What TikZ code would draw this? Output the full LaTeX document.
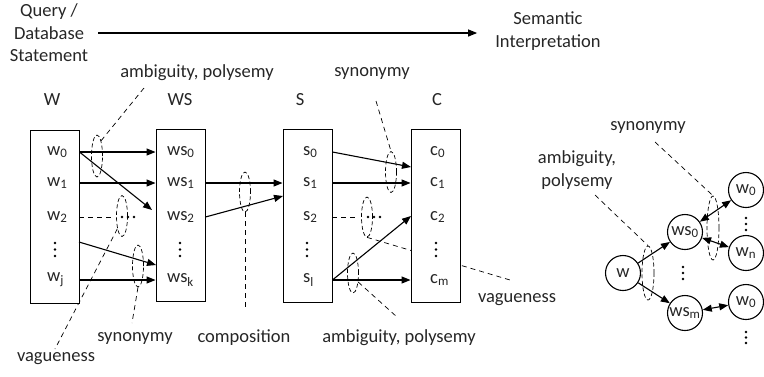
\documentclass[tikz,border=0pt]{standalone}
\usepackage{fontspec}
\setmainfont{Carlito}
\usetikzlibrary{arrows.meta,shapes.geometric}
\newcommand{\sub}[1]{\textsubscript{#1}}
\begin{document}
\begin{tikzpicture}[x=1pt,y=-1pt,
  font=\fontsize{18.5}{22.5}\selectfont,
  lbl/.style={inner sep=0pt, text=black!85},
  box/.style={draw, fill=white, minimum width=49pt, minimum height=173pt, inner sep=0pt, line width=0.9pt},
  arr/.style={-{Triangle[length=9pt,width=7pt]}, line width=1.1pt},
  darr/.style={{Triangle[length=9pt,width=7pt]}-{Triangle[length=9pt,width=7pt]}, line width=1.1pt},
  dsh/.style={dash pattern=on 5pt off 4pt, line width=0.7pt},
  ell/.style={draw, ellipse, dash pattern=on 4pt off 2.5pt, line width=0.7pt, inner sep=0pt},
  cnode/.style={draw, circle, minimum size=35pt, inner sep=0pt, line width=1.1pt},
  dotc/.style={fill, circle, inner sep=0pt, minimum size=2.6pt, text=black!85}
]
\useasboundingbox (0,0) rectangle (764,376);

% header
\node[lbl, align=center] (q) at (49,33) {Query /\\Database\\Statement};
\node[lbl, align=center] (sem) at (548,31) {Semantic\\Interpretation};
\draw[arr] ([xshift=10pt]q.east) -- ([xshift=-18pt]q.east -| sem.west);

% top labels
\node[lbl] (tamb1) at (197,73) {ambiguity, polysemy};
\node[lbl] (tsyn1) at (372,73) {synonymy};
\node[lbl] (hW) at (52,100) {W};
\node[lbl] (hWS) at (180,100) {WS};
\node[lbl] (hS) at (300,100) {S};
\node[lbl] (hC) at (437,100) {C};

% bottom labels
\node[lbl] (tvag1) at (56,359) {vagueness};
\node[lbl] (tsyn2) at (135,338) {synonymy};
\node[lbl] (tcomp) at (244,338) {composition};
\node[lbl] (tamb2) at (399,338) {ambiguity, polysemy};
\node[lbl] (tvag2) at (517,300) {vagueness};

% ellipses
\node[ell, minimum width=11pt, minimum height=42pt] (e1) at (97,156) {};
\node[ell, minimum width=11pt, minimum height=41pt] (e2) at (122,216) {};
\node[ell, minimum width=11pt, minimum height=42pt] (e3) at (138,266) {};
\node[ell, minimum width=11pt, minimum height=40pt] (e4) at (245,192) {};
\node[ell, minimum width=11pt, minimum height=41pt] (e5) at (391,172) {};
\node[ell, minimum width=11pt, minimum height=40pt] (e6) at (367,217) {};
\node[ell, minimum width=11pt, minimum height=40pt] (e7) at (353,273) {};

% leader lines (free ends)
\coordinate (la1) at (144,88);
\coordinate (lv1) at (55,349);
\coordinate (ls2) at (132,323);
\coordinate (lc) at (245,310);
\coordinate (ls1) at (376,101);
\coordinate (lv2) at (510,280);
\coordinate (la2) at (397,317);
\draw[dsh] (e1.75) -- (la1);
\draw[dsh] (e2.-110) -- (lv1);
\draw[dsh] (e3.south) -- (ls2);
\draw[dsh] (e4.south) -- (lc);
\draw[dsh] (ls1) -- (e5.north);
\draw[dsh] (e6.south) -- (lv2);
\draw[dsh] (e7.-60) -- (la2);

% boxes
\node[box, minimum height=173pt] (W) at (54.5,216.5) {};
\node[box, minimum height=172pt] (WS) at (180.5,215) {};
\node[box, minimum height=173pt] (S) at (307.5,215.5) {};
\node[box, minimum height=173pt] (C) at (435.5,215.5) {};

% rows
\coordinate (r0) at (0,152);
\coordinate (r1) at (0,183);
\coordinate (r2) at (0,217);
\coordinate (r3) at (0,248);
\coordinate (r4) at (0,280);

\node[lbl, anchor=west] (w0) at (47,152) {w\sub{0}};
\node[lbl, anchor=west] (w1) at (47,183) {w\sub{1}};
\node[lbl, anchor=west] (w2) at (47,217) {w\sub{2}};
\node[lbl, anchor=west] (wj) at (47,280) {w\sub{j}};

\node[lbl, anchor=west] (ws0) at (167,152) {ws\sub{0}};
\node[lbl, anchor=west] (ws1) at (167,183) {ws\sub{1}};
\node[lbl, anchor=west] (ws2) at (167,217) {ws\sub{2}};
\node[lbl, anchor=west] (wsk) at (167,280) {ws\sub{k}};

\node[lbl, anchor=west] (s0) at (303,152) {s\sub{0}};
\node[lbl, anchor=west] (s1) at (303,183) {s\sub{1}};
\node[lbl, anchor=west] (s2) at (303,217) {s\sub{2}};
\node[lbl, anchor=west] (sl) at (303,280) {s\sub{l}};

\node[lbl, anchor=west] (c0) at (430,152) {c\sub{0}};
\node[lbl, anchor=west] (c1) at (430,183) {c\sub{1}};
\node[lbl, anchor=west] (c2) at (430,217) {c\sub{2}};
\node[lbl, anchor=west] (cm) at (430,280) {c\sub{m}};

% vertical ellipsis dots
\foreach \x/\n in {55/a,180/b,307/c,436/d}{
  \node[dotc] (v\n1) at (\x,243) {};
  \node[dotc] (v\n2) at (\x,249.5) {};
  \node[dotc] (v\n3) at (\x,256) {};
}

% W -> WS
\coordinate (a1) at (152,210);
\coordinate (a2s) at (79,242);
\coordinate (a2e) at (156,265);
\draw[arr] (r0 -| W.east) -- (r0 -| WS.west);
\draw[arr] (r0 -| W.east) -- (a1);
\draw[arr] (r1 -| W.east) -- (r1 -| WS.west);
\draw[dsh] (r2 -| W.east) -- (113,217);
\node[dotc] (d1) at (122,217) {};
\node[dotc] (d2) at (128,217) {};
\node[dotc] (d3) at (134,217) {};
\draw[arr] (a2s) -- (a2e);
\draw[arr] (r4 -| W.east) -- (r4 -| WS.west);

% WS -> S
\coordinate (b1) at (283,196);
\draw[arr] (r1 -| WS.east) -- (r1 -| S.west);
\draw[arr] (r2 -| WS.east) -- (b1);

% S -> C
\coordinate (c0e) at (411,167);
\coordinate (c2e) at (411,216);
\draw[arr] (r0 -| S.east) -- (c0e);
\draw[arr] (r1 -| S.east) -- (r1 -| C.west);
\draw[dsh] (r2 -| S.east) -- (359,217);
\node[dotc] (d4) at (368,217) {};
\node[dotc] (d5) at (374,217) {};
\node[dotc] (d6) at (380,217) {};
\draw[arr] (r4 -| S.east) -- (c2e);
\draw[arr] (r4 -| S.east) -- (r4 -| C.west);

% right graph
\node[cnode] (gw) at (623,273) {};
\node[cnode] (gws0) at (685,232) {};
\node[cnode] (gwsm) at (685,313) {};
\node[cnode] (gw0a) at (746,190) {};
\node[cnode] (gwn) at (746,253) {};
\node[cnode] (gw0b) at (746,302) {};
\node[lbl] (tw) at (gw) {w};
\node[lbl] (tws0) at (gws0) {ws\sub{0}};
\node[lbl] (twsm) at (gwsm) {ws\sub{m}};
\node[lbl] (tw0a) at (gw0a) {w\sub{0}};
\node[lbl] (twn) at (gwn) {w\sub{n}};
\node[lbl] (tw0b) at (gw0b) {w\sub{0}};
\foreach \x/\ya/\yb/\yc/\n in {683/267/273/279/e, 746/218/224/230/f, 746/332/337.5/343/g}{
  \node[dotc] (v\n1) at (\x,\ya) {};
  \node[dotc] (v\n2) at (\x,\yb) {};
  \node[dotc] (v\n3) at (\x,\yc) {};
}

\draw[arr] (gw) -- (gws0);
\draw[arr] (gw) -- (gwsm);
\draw[darr] (gws0) -- (gw0a);
\draw[darr] (gws0) -- (gwn);
\draw[darr] (gwsm) -- (gw0b);

\node[ell, minimum width=12pt, minimum height=54pt] (ge1) at (648,273) {};
\node[ell, minimum width=12pt, minimum height=64pt] (ge2) at (713,228) {};

\node[lbl, align=center] (tamb3) at (577,170) {ambiguity,\\polysemy};
\node[lbl] (tsyn3) at (648,127) {synonymy};
\coordinate (gl1) at (595,195);
\coordinate (gl2) at (655,142);
\draw[dsh] (gl1) -- (ge1.north);
\draw[dsh] (gl2) -- (ge2.north);
\end{tikzpicture}
\end{document}
